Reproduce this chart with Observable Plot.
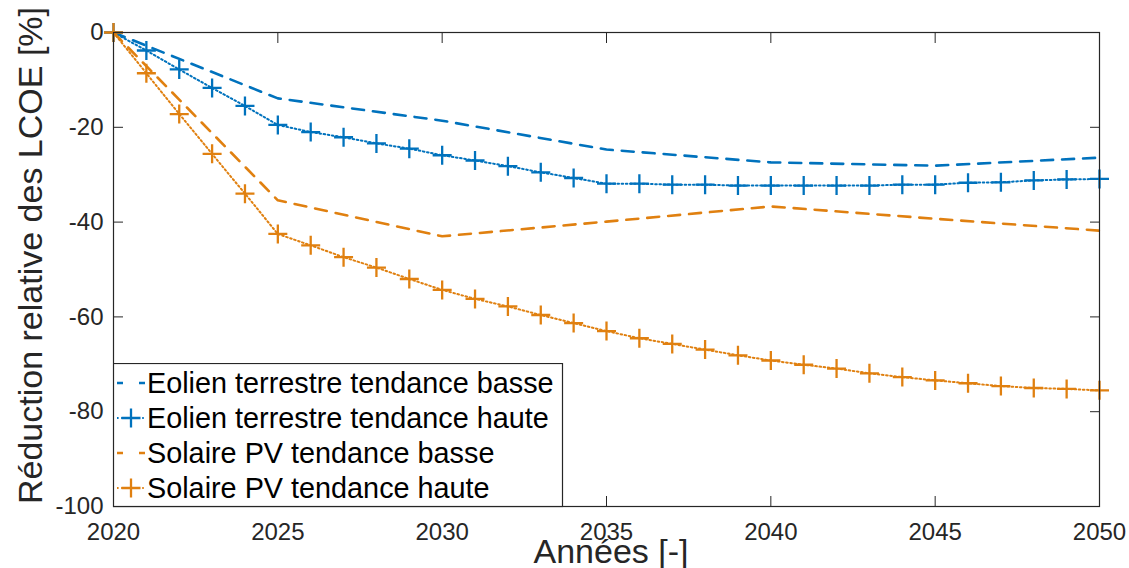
<!DOCTYPE html>
<html><head><meta charset="utf-8">
<script src="https://cdn.jsdelivr.net/npm/d3@7"></script>
<script src="https://cdn.jsdelivr.net/npm/@observablehq/plot@0.6"></script>
<style>
body{margin:0;background:#fff;}
#wrap{position:relative;width:1129px;height:568px;overflow:hidden;font-family:"Liberation Sans",Arial,sans-serif;}
#legend{position:absolute;left:113px;top:363px;}
</style></head><body><div id="wrap"></div>
<script>
// ---- data ----
const years = [2020,2021,2022,2023,2024,2025,2026,2027,2028,2029,2030,2031,2032,2033,2034,2035,2036,2037,2038,2039,2040,2041,2042,2043,2044,2045,2046,2047,2048,2049,2050];
const eolienHaute = [0,-3.8,-7.8,-11.7,-15.5,-19.5,-21.0,-22.1,-23.4,-24.5,-25.9,-27.0,-28.2,-29.5,-30.7,-31.9,-31.9,-32.1,-32.1,-32.3,-32.3,-32.3,-32.3,-32.3,-32.1,-32.1,-31.7,-31.6,-31.2,-31.0,-30.9];
const solaireHaute = [0,-8.6,-17.2,-25.6,-34.0,-42.5,-44.9,-47.4,-49.6,-52.0,-54.3,-56.2,-57.8,-59.6,-61.3,-63.0,-64.5,-65.7,-66.9,-68.1,-69.2,-70.1,-70.9,-71.9,-72.7,-73.4,-74.0,-74.6,-75.0,-75.2,-75.5];
const yearsBasse = [2020,2025,2030,2035,2040,2045,2050];
const eolienBasse = [0,-13.9,-18.6,-24.7,-27.4,-28.1,-26.4];
const solaireBasse = [0,-35.4,-43.0,-39.9,-36.7,-39.3,-41.8];
const seriesNames = ["Eolien terrestre tendance basse","Eolien terrestre tendance haute","Solaire PV tendance basse","Solaire PV tendance haute"];
const xTicks = [2020,2025,2030,2035,2040,2045,2050];
const yTicks = [-100,-80,-60,-40,-20,0];
const xLabel = "Années [-]";
const yLabel = "Réduction relative des LCOE [%]";

const blue = "#0072BD", orange = "#E08010", axisCol = "#262626";

const toRows = (xs, ys) => xs.map((x,i)=>({x, y: ys[i]}));
const eb = toRows(yearsBasse, eolienBasse);
const eh = toRows(years, eolienHaute);
const sb = toRows(yearsBasse, solaireBasse);
const sh = toRows(years, solaireHaute);

const dashed = {strokeWidth: 2.6, strokeDasharray: "12,9"};
const dotted = {strokeWidth: 2, strokeDasharray: "1.6,2.6"};
const plusSymbol = {draw(ctx) { const r = 9.5; ctx.moveTo(-r, 0); ctx.lineTo(r, 0); ctx.moveTo(0, -r); ctx.lineTo(0, r); }};

const chart = Plot.plot({
  width: 1129, height: 568,
  marginLeft: 113, marginRight: 30, marginTop: 32, marginBottom: 62,
  style: {fontFamily: '"Liberation Sans", Arial, sans-serif', fontSize: "24px", color: axisCol, background: "#fff"},
  x: {domain: [2020, 2050]},
  y: {domain: [-100, 0]},
  marks: [
    Plot.line(eb, {x: "x", y: "y", stroke: blue, ...dashed}),
    Plot.line(eh, {x: "x", y: "y", stroke: blue, ...dotted}),
    Plot.dot(eh, {x: "x", y: "y", symbol: plusSymbol, fill: "none", stroke: blue, strokeWidth: 2.3}),
    Plot.line(sb, {x: "x", y: "y", stroke: orange, ...dashed}),
    Plot.line(sh, {x: "x", y: "y", stroke: orange, ...dotted}),
    Plot.dot(sh, {x: "x", y: "y", symbol: plusSymbol, fill: "none", stroke: orange, strokeWidth: 2.3}),
    Plot.axisX({anchor: "bottom", ticks: xTicks, tickSize: -10, tickPadding: 26, tickFormat: d => String(d), label: null, fontSize: 24}),
    Plot.axisX({anchor: "top", ticks: xTicks, tickSize: -10, tickFormat: () => "", label: null}),
    Plot.axisY({anchor: "left", ticks: yTicks, tickSize: -10, tickPadding: 20, tickFormat: d => String(d), label: null, fontSize: 24}),
    Plot.axisY({anchor: "right", ticks: yTicks, tickSize: -10, tickFormat: () => "", label: null}),
    Plot.frame({stroke: axisCol, strokeWidth: 1.2})
  ]
});
const wrap = document.getElementById("wrap");
wrap.appendChild(chart);

const svg = d3.select(chart);
svg.append("text").attr("transform", "translate(42,255.5) rotate(-90)")
  .attr("text-anchor", "middle").attr("font-size", 34).attr("fill", axisCol).text(yLabel);
svg.append("text").attr("transform", "translate(611,563)")
  .attr("text-anchor", "middle").attr("font-size", 34).attr("fill", axisCol).text(xLabel);

// legend
const styles = [
  {color: blue, marker: false},
  {color: blue, marker: true},
  {color: orange, marker: false},
  {color: orange, marker: true}
];
const lg = d3.select(wrap).append("svg").attr("id", "legend").attr("width", 451).attr("height", 145);
lg.append("rect").attr("x", 0.5).attr("y", 0.5).attr("width", 449).attr("height", 143)
  .attr("fill", "#fff").attr("stroke", axisCol).attr("stroke-width", 1.2);
seriesNames.forEach((name, i) => {
  const cy = 20 + 35 * i;
  const st = styles[i];
  if (st.marker) {
    lg.append("line").attr("x1", 4).attr("x2", 32).attr("y1", cy).attr("y2", cy)
      .attr("stroke", st.color).attr("stroke-width", 2).attr("stroke-dasharray", "1.6,2.6");
    lg.append("path").attr("d", `M${18-9.5},${cy}H${18+9.5}M18,${cy-9.5}V${cy+9.5}`)
      .attr("stroke", st.color).attr("stroke-width", 2.3).attr("fill", "none");
  } else {
    lg.append("line").attr("x1", 4).attr("x2", 32).attr("y1", cy).attr("y2", cy)
      .attr("stroke", st.color).attr("stroke-width", 2.6).attr("stroke-dasharray", "6,16");
  }
  lg.append("text").attr("x", 34).attr("y", cy + 10).attr("font-size", 28.8).attr("fill", "#000")
    .attr("font-family", '"Liberation Sans", Arial, sans-serif').text(name);
});
</script></body></html>
